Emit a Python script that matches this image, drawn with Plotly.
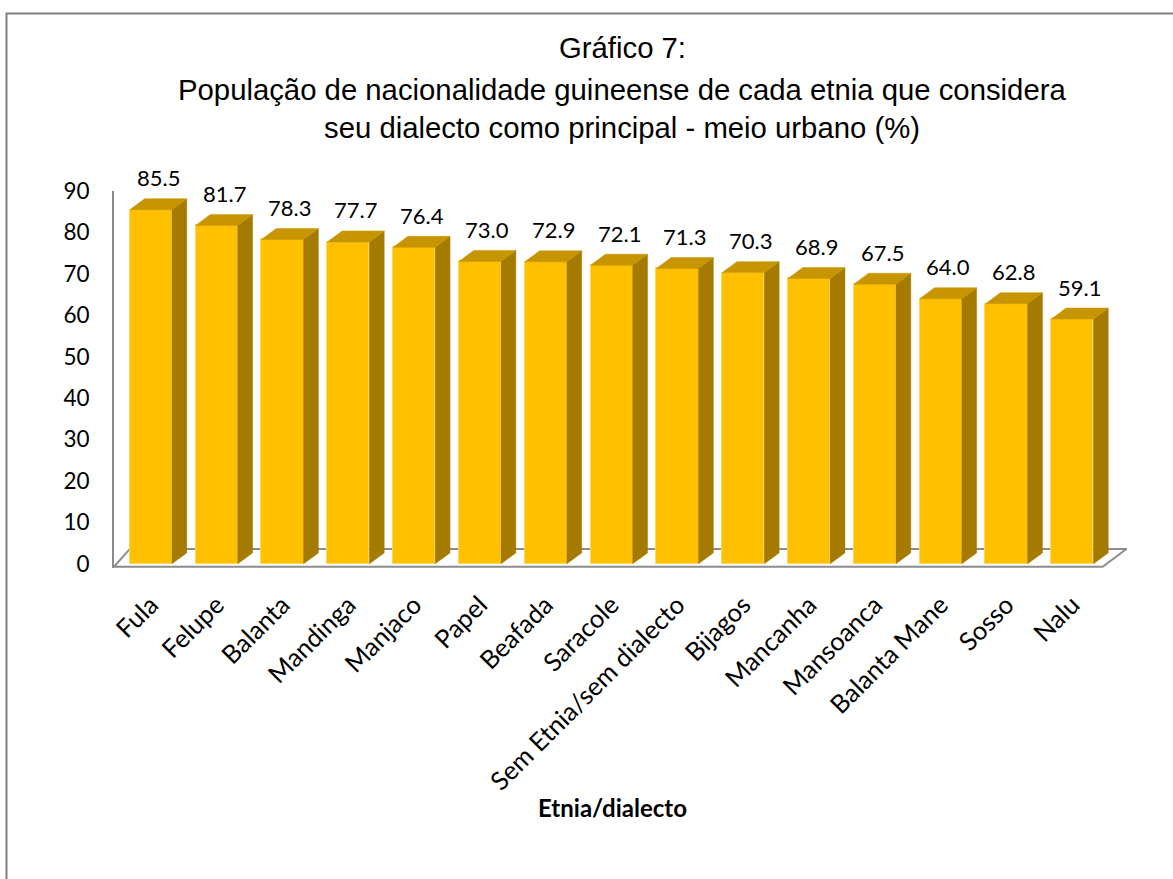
import plotly.graph_objects as go

categories = ["Fula", "Felupe", "Balanta", "Mandinga", "Manjaco", "Papel", "Beafada",
              "Saracole", "Sem Etnia/sem dialecto", "Bijagos", "Mancanha", "Mansoanca",
              "Balanta Mane", "Sosso", "Nalu"]
values = [85.5, 81.7, 78.3, 77.7, 76.4, 73.0, 72.9, 72.1, 71.3, 70.3, 68.9, 67.5, 64.0, 62.8, 59.1]
y_ticks = [0, 10, 20, 30, 40, 50, 60, 70, 80, 90]
title_lines = ["Gráfico 7:",
               "População de nacionalidade guineense de cada etnia que considera",
               "seu dialecto como principal - meio urbano (%)"]
x_title = "Etnia/dialecto"

W, H = 1173, 879
ML, MR, MT, MB = 114, 46, 191, 311
PW, PH = W - ML - MR, H - MT - MB
XR = [-0.56, 14.83]
YR = [-1, 90]

FRONT = "#FFC000"
SIDE = "#A47A00"
TOP = "#C79500"
GRAY = "#8C8C8C"

BW = 0.64          # bar width (category units)
DX = 0.225         # depth offset x (category units)
DY = 2.65          # depth offset y (value units)


def px_x(px):
    return (px - ML) / PW


def px_y(py):
    return (H - MB - py) / PH


xs = list(range(len(categories)))

fig = go.Figure()

# front faces
fig.add_trace(go.Bar(x=xs, y=values, width=BW, marker=dict(color=FRONT, line=dict(color="#FFD75A", width=1)),
                     showlegend=False, hoverinfo="skip"))

# side faces and top faces
sx, sy, tx, ty = [], [], [], []
for i, v in zip(xs, values):
    r = i + BW / 2
    l = i - BW / 2
    sx += [r, r + DX, r + DX, r, r, None]
    sy += [0, DY, v + DY, v, 0, None]
    tx += [l, r, r + DX, l + DX, l, None]
    ty += [v, v, v + DY, v + DY, v, None]

fig.add_trace(go.Scatter(x=sx, y=sy, mode="lines", fill="toself", fillcolor=SIDE,
                         line=dict(color=SIDE, width=0.5), showlegend=False, hoverinfo="skip"))
fig.add_trace(go.Scatter(x=tx, y=ty, mode="lines", fill="toself", fillcolor=TOP,
                         line=dict(color=TOP, width=0.5), showlegend=False, hoverinfo="skip"))

# data labels
for i, v in zip(xs, values):
    fig.add_annotation(x=i + DX / 2, y=v + DY, text=f"{v:.1f}", showarrow=False,
                       yanchor="middle", yshift=21,
                       font=dict(family="Lato", size=22, color="black"))

# floor
FLOOR_FRONT = -0.72
FLOOR_BACK = 3.6
FLOOR_DX = 0.24
x_front_right = XR[1] - 0.37
fig.add_shape(type="path", xref="x", yref="y", layer="below",
              path=(f"M {XR[0]},{FLOOR_FRONT} L {x_front_right},{FLOOR_FRONT} "
                    f"L {XR[1] - 0.01},{FLOOR_BACK} L {XR[0] + FLOOR_DX},{FLOOR_BACK} Z"),
              line=dict(color=GRAY, width=2), fillcolor="white")

# outer chart border
fig.add_shape(type="rect", xref="paper", yref="paper",
              x0=px_x(6.5), x1=px_x(1190), y0=px_y(900), y1=px_y(13.5),
              line=dict(color="#7F7F7F", width=2))

# title lines
for txt, py in zip(title_lines, [48, 89, 127]):
    fig.add_annotation(xref="paper", yref="paper", x=px_x(622), y=px_y(py), text=txt,
                       showarrow=False, xanchor="center", yanchor="middle",
                       font=dict(family="Liberation Sans, Arial", size=29.3, color="black"))

# x axis title
fig.add_annotation(xref="paper", yref="paper", x=px_x(612), y=px_y(807), text=f"<b>{x_title}</b>",
                   showarrow=False, xanchor="center", yanchor="middle",
                   font=dict(family="Lato", size=24, color="black"))

fig.update_layout(
    width=W, height=H, autosize=False,
    margin=dict(l=ML, r=MR, t=MT, b=MB, pad=0),
    paper_bgcolor="white", plot_bgcolor="white",
    bargap=0,
    xaxis=dict(range=XR, tickmode="array", tickvals=xs, ticktext=categories,
               tickangle=-45, showgrid=False, zeroline=False, showline=False,
               ticks="", ticklabelstandoff=16, automargin=False,
               tickfont=dict(family="Lato", size=25.5, color="black")),
    yaxis=dict(range=YR, tickmode="array", tickvals=y_ticks, showgrid=False,
               zeroline=False, showline=True, linecolor=GRAY, linewidth=2,
               ticks="", ticklabelstandoff=18, automargin=False,
               tickfont=dict(family="Lato", size=22.5, color="black")),
)

fig.write_html("out.html", config={"displayModeBar": False},
               post_script="document.body.style.margin='0';document.body.style.overflow='hidden';")
